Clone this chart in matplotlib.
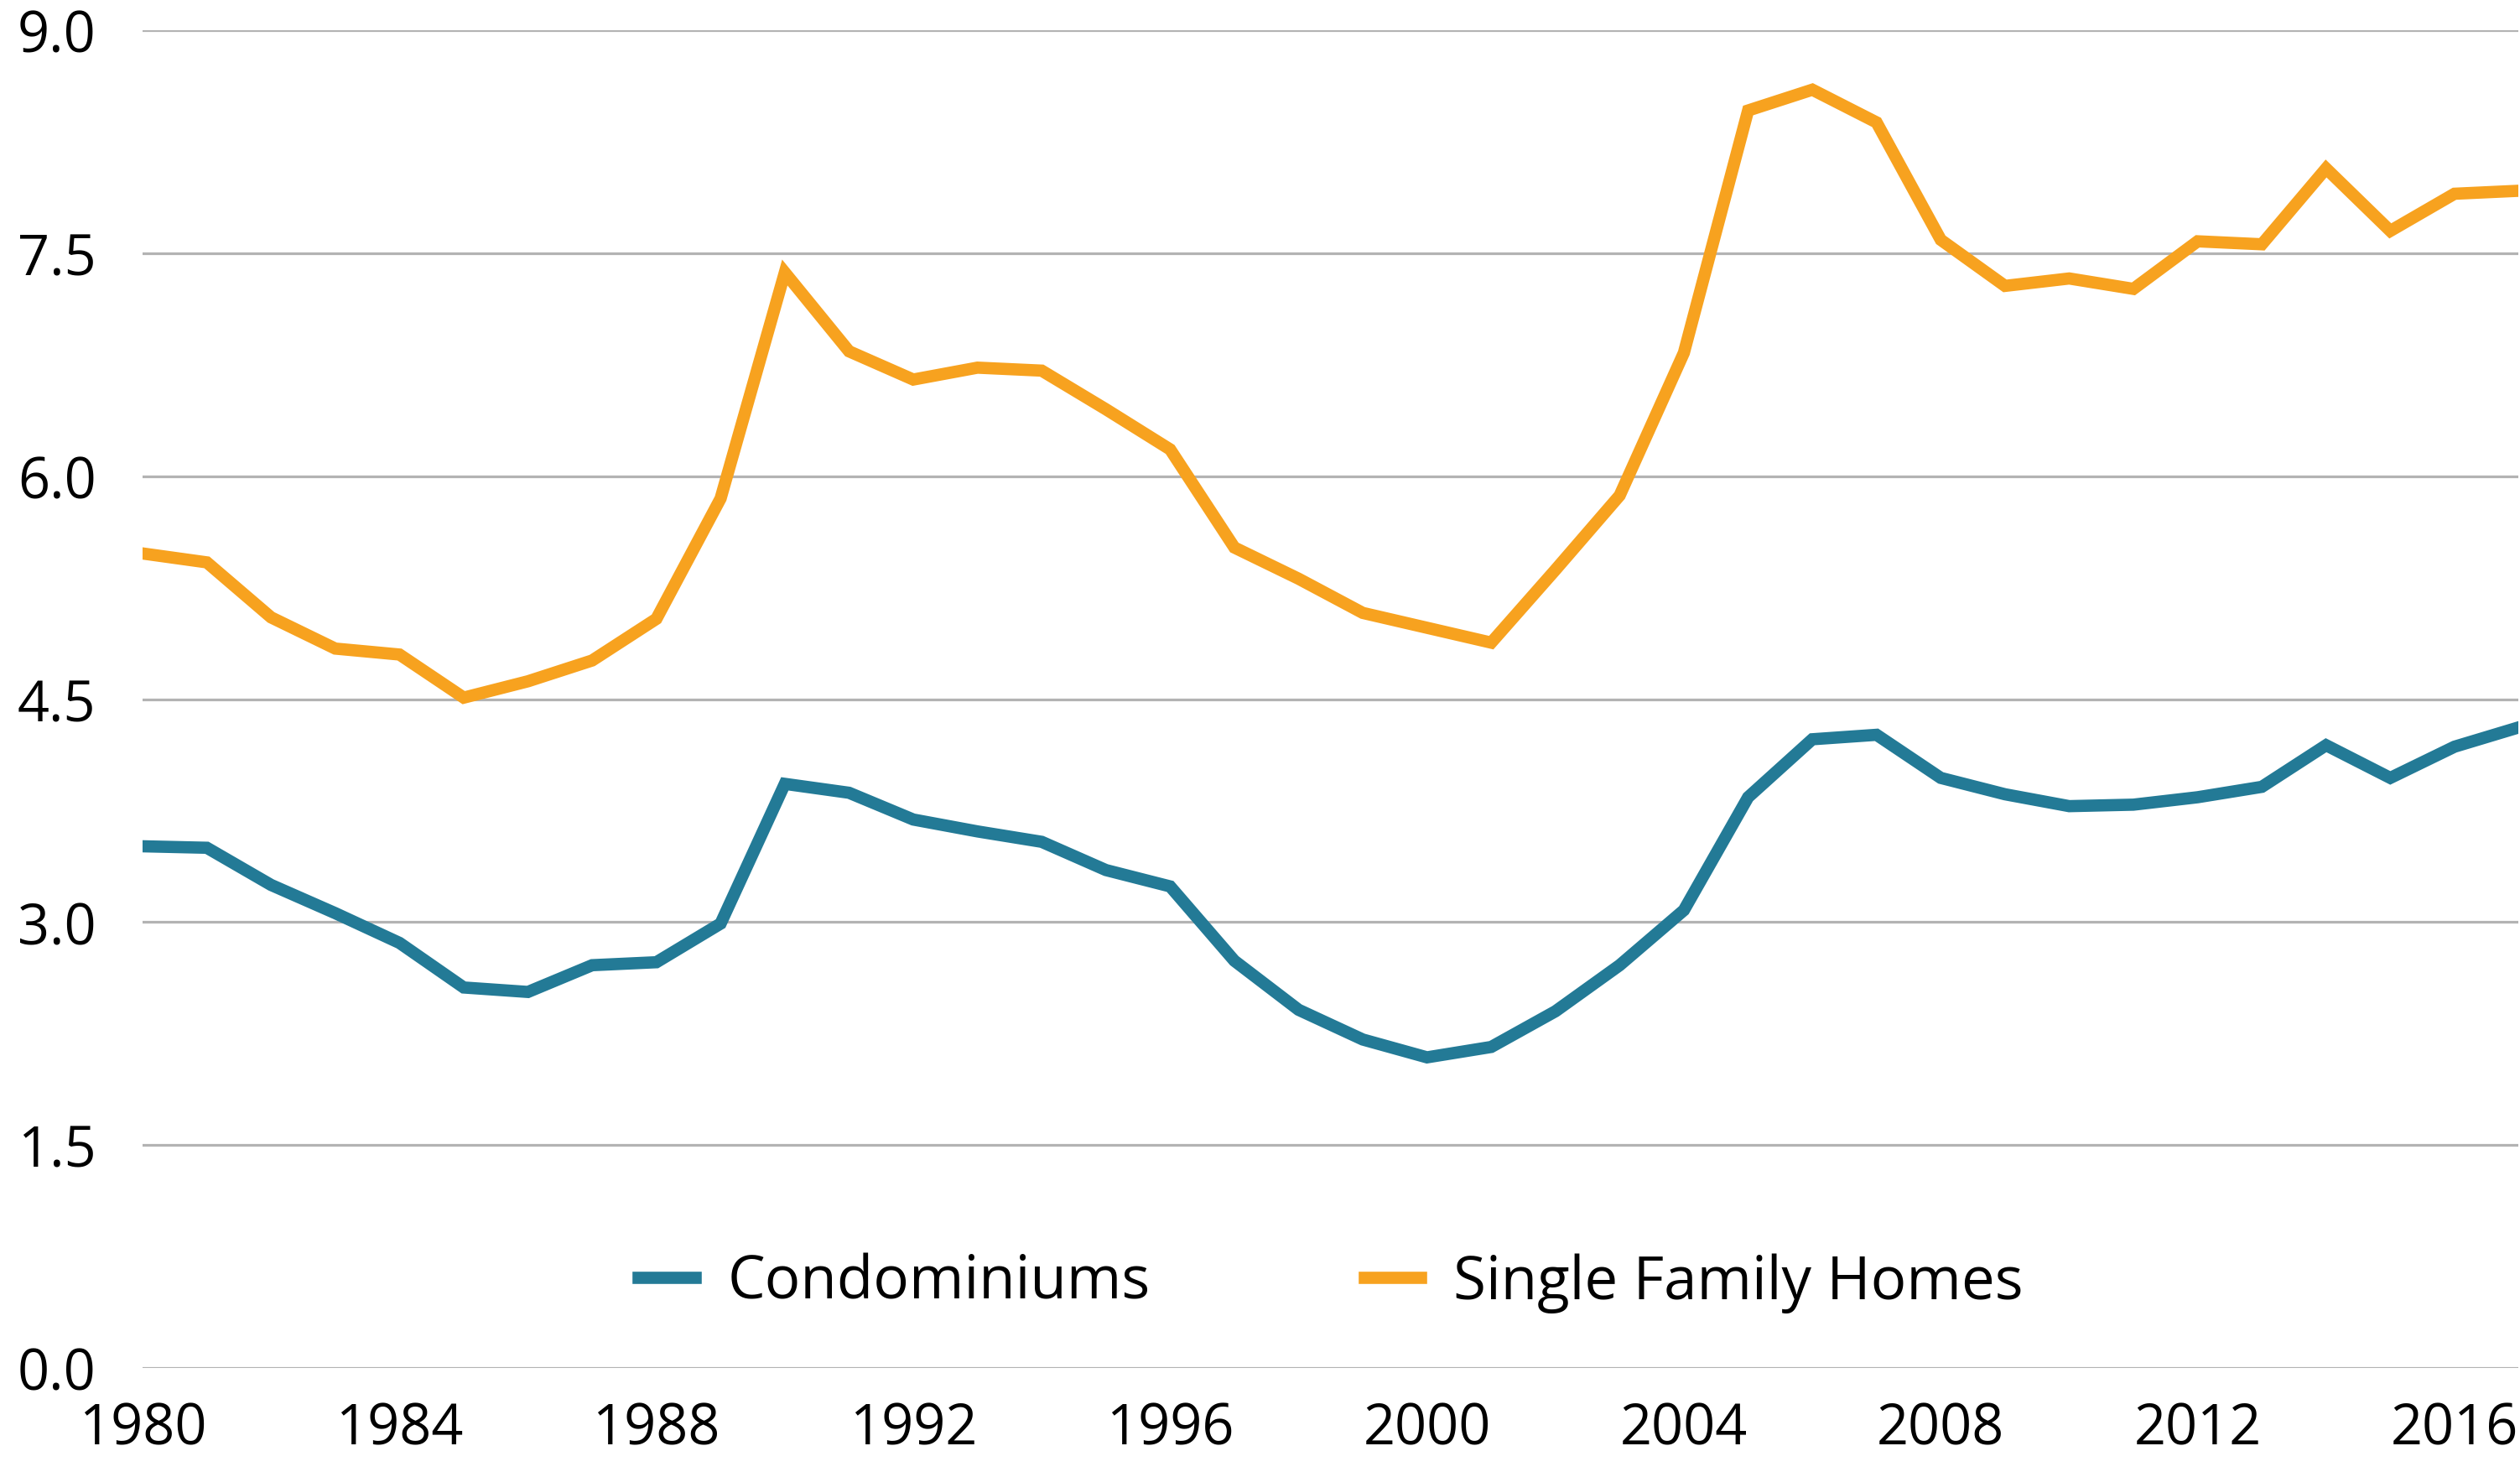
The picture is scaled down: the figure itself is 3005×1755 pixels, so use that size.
import matplotlib
matplotlib.use("Agg")
import matplotlib.pyplot as plt

plt.rcParams['font.family'] = ['Open Sans', 'DejaVu Sans']

years = list(range(1980, 2018))

# single family homes
sfh = [5.48, 5.42, 5.05, 4.84, 4.80, 4.51, 4.62, 4.76, 5.04, 5.85,
       7.37, 6.84, 6.65, 6.73, 6.71, 6.45, 6.18, 5.52, 5.31, 5.08,
       4.98, 4.88, 5.37, 5.87, 6.83, 8.46, 8.60, 8.38, 7.59, 7.28,
       7.33, 7.26, 7.58, 7.56, 8.07, 7.65, 7.90, 7.92]

# condominiums
condo = [3.51, 3.50, 3.25, 3.06, 2.86, 2.56, 2.53, 2.71, 2.73, 2.99,
         3.93, 3.87, 3.69, 3.61, 3.54, 3.35, 3.24, 2.74, 2.41, 2.21,
         2.09, 2.16, 2.40, 2.71, 3.08, 3.84, 4.23, 4.26, 3.97, 3.86,
         3.78, 3.79, 3.84, 3.91, 4.19, 3.97, 4.18, 4.31]

yticks = [0.0, 1.5, 3.0, 4.5, 6.0, 7.5, 9.0]
xticks = list(range(1980, 2017, 4))

fig = plt.figure(figsize=(30.05, 17.56), dpi=100)
ax = fig.add_axes([0.0566, 0.0706, 0.9429, 0.9083])

ax.plot(years, condo, color='#237A96', lw=10.5, label='Condominiums', solid_joinstyle='miter', zorder=3)
ax.plot(years, sfh, color='#F7A21F', lw=10.5, label='Single Family Homes', solid_joinstyle='miter', zorder=3)

ax.set_xlim(1980, 2017)
ax.set_ylim(0, 9)
ax.set_yticks(yticks)
ax.set_yticklabels(['%.1f' % v for v in yticks])
ax.set_xticks(xticks)
ax.set_xticklabels([str(v) for v in xticks])
ax.tick_params(axis='both', length=0, labelsize=48)
ax.tick_params(axis='y', pad=40)
ax.tick_params(axis='x', pad=28)
ax.yaxis.grid(True, color='#B3B3B3', lw=2.3)
ax.set_axisbelow(True)
for s in ax.spines.values():
    s.set_visible(False)

ax.legend(loc='center', bbox_to_anchor=(0.5, 0.064), ncol=2, frameon=False,
          fontsize=51, handlelength=0.95, handletextpad=0.55, columnspacing=3.6)

fig.savefig('out.png', dpi=100)
